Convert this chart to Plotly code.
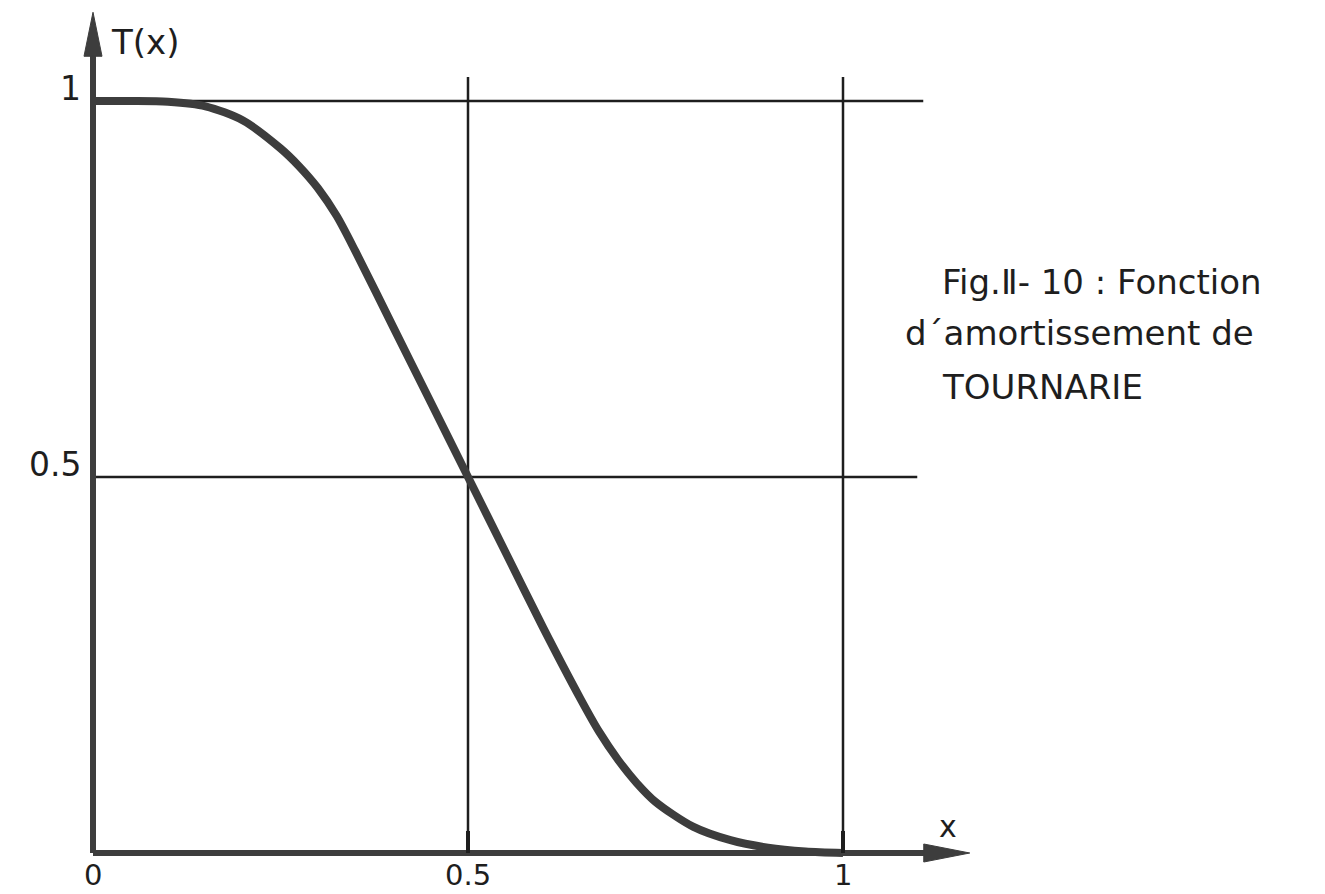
import plotly.graph_objects as go

# ---- data ----
x_vals = [0, 0.05, 0.1, 0.15, 0.2, 0.25, 0.275, 0.3, 0.325, 0.35, 0.4, 0.45, 0.5,
          0.55, 0.6, 0.65, 0.675, 0.7, 0.725, 0.75, 0.8, 0.85, 0.9, 0.95, 1.0]
t_vals = [1.0, 1.0, 0.999, 0.993, 0.974, 0.937, 0.913, 0.884, 0.847, 0.80, 0.70, 0.60, 0.5,
          0.40, 0.30, 0.205, 0.161, 0.124, 0.093, 0.068, 0.035, 0.017, 0.007, 0.002, 0.0]

x_ticks = [0, 0.5, 1]
x_tick_text = ["0", "0.5", "1"]
y_ticks = [0.5, 1]
y_tick_text = ["0.5", "1"]

title_lines = ["Fig.Ⅱ- 10 : Fonction", "d\u00b4amortissement de", "TOURNARIE"]

# ---- geometry (pixel mapping of the original drawing) ----
W, H = 1325, 894
X0_PX, X_SCALE = 93, 750      # pixel of x=0, pixels per unit
Y0_PX, Y_SCALE = 853, 752     # pixel of T=0, pixels per unit

x_range = [-X0_PX / X_SCALE, (W - X0_PX) / X_SCALE]
y_range = [(Y0_PX - H) / Y_SCALE, Y0_PX / Y_SCALE]

def dx(px):
    return px / X_SCALE

def dy(px):
    return px / Y_SCALE

INK = "#1e1e1e"
CURVE = "#3d3d3d"

fig = go.Figure()

# main curve
fig.add_trace(go.Scatter(
    x=x_vals, y=t_vals, mode="lines",
    line=dict(color=CURVE, width=8, shape="spline", smoothing=0.8),
    hoverinfo="skip", showlegend=False,
))

shapes = []
# grid lines (horizontal)
h_end = {1: 1.107, 0.5: 1.099}
for yv in y_ticks:
    shapes.append(dict(type="line", xref="x", yref="y", x0=0, x1=h_end[yv],
                       y0=yv, y1=yv, line=dict(color=INK, width=2.5), layer="below"))
# grid lines (vertical)
for xv in x_ticks[1:]:
    shapes.append(dict(type="line", xref="x", yref="y", x0=xv, x1=xv,
                       y0=0, y1=1.032, line=dict(color=INK, width=2.5), layer="below"))

# axes with arrows
x_axis_end = 1.169
y_axis_end = 1.118
head_len_x = dx(46)
head_len_y = dy(44)
half_w_x = dy(9)
half_w_y = dx(9)
shapes.append(dict(type="line", xref="x", yref="y", x0=0, x1=x_axis_end - head_len_x * 0.5,
                   y0=0, y1=0, line=dict(color=CURVE, width=6)))
shapes.append(dict(type="line", xref="x", yref="y", x0=0, x1=0,
                   y0=0, y1=y_axis_end - head_len_y * 0.5, line=dict(color=CURVE, width=6)))
shapes.append(dict(type="path", xref="x", yref="y",
                   path=f"M {x_axis_end - head_len_x},{-half_w_x} L {x_axis_end},0 "
                        f"L {x_axis_end - head_len_x},{half_w_x} Z",
                   fillcolor=CURVE, line=dict(color=CURVE, width=1)))
shapes.append(dict(type="path", xref="x", yref="y",
                   path=f"M {-half_w_y},{y_axis_end - head_len_y} L 0,{y_axis_end} "
                        f"L {half_w_y},{y_axis_end - head_len_y} Z",
                   fillcolor=CURVE, line=dict(color=CURVE, width=1)))
# small tick marks on the x axis
for xv in x_ticks[1:]:
    shapes.append(dict(type="line", xref="x", yref="y", x0=xv, x1=xv,
                       y0=0, y1=dy(22), line=dict(color=INK, width=4)))

annotations = []
FONT = "DejaVu Sans"
for xv, txt in zip(x_ticks, x_tick_text):
    annotations.append(dict(x=xv, y=-dy(22), xref="x", yref="y", text=txt, showarrow=False,
                            font=dict(family=FONT, size=29, color=INK),
                            xanchor="center", yanchor="middle"))
for yv, txt in zip(y_ticks, y_tick_text):
    annotations.append(dict(x=-dx(10), y=yv + dy(13), xref="x", yref="y", text=txt,
                            showarrow=False, font=dict(family=FONT, size=33, color=INK),
                            xanchor="right", yanchor="middle"))
annotations.append(dict(x=dx(16), y=y_axis_end - dy(30), xref="x", yref="y", text="T(x)",
                        showarrow=False, font=dict(family=FONT, size=34, color=INK),
                        xanchor="left", yanchor="middle"))
annotations.append(dict(x=x_axis_end - dx(22), y=dy(27), xref="x", yref="y", text="x",
                        showarrow=False, font=dict(family=FONT, size=30, color=INK),
                        xanchor="center", yanchor="middle"))

title_x_px = [940, 903, 940]
title_y_px = [282, 333, 387]
for txt, xp, yp in zip(title_lines, title_x_px, title_y_px):
    annotations.append(dict(x=xp / W, y=1 - yp / H, xref="paper", yref="paper",
                            text=txt, showarrow=False,
                            font=dict(family=FONT, size=34, color=INK),
                            xanchor="left", yanchor="middle"))

fig.update_layout(
    width=W, height=H,
    margin=dict(l=0, r=0, t=0, b=0),
    paper_bgcolor="white", plot_bgcolor="white",
    xaxis=dict(range=x_range, visible=False, fixedrange=True),
    yaxis=dict(range=y_range, visible=False, fixedrange=True),
    shapes=shapes, annotations=annotations,
)

fig.write_html("out.html", config={"displayModeBar": False},
               post_script="document.body.style.margin='0';document.body.style.overflow='hidden';")
